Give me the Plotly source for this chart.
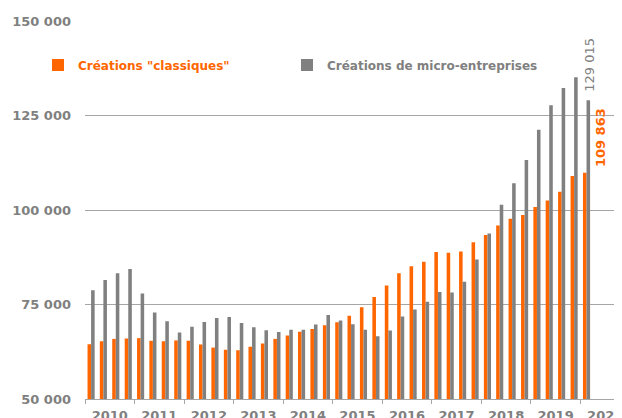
import pandas as pd
import plotly.graph_objects as go

# trimestres 2010 T1 -> 2020 T1
trimestres = pd.date_range("2010-01-01", periods=41, freq="QS").strftime("%Y-%m-%d").tolist()

creations_classiques = [
    64500, 65300, 65900, 66000,
    66100, 65400, 65300, 65500,
    65400, 64400, 63600, 63000,
    62900, 63800, 64700, 65900,
    66800, 67800, 68500, 69500,
    70300, 72000, 74300, 77000,
    80000, 83300, 85100, 86300,
    88900, 88700, 89000, 91500,
    93400, 95900, 97700, 98700,
    100800, 102500, 104800, 109000,
    109863,
]

creations_micro = [
    78800, 81500, 83300, 84400,
    77900, 72900, 70600, 67600,
    69100, 70400, 71400, 71700,
    70100, 69000, 68200, 67700,
    68300, 68300, 69700, 72200,
    70800, 69800, 68300, 66600,
    68100, 71800, 73700, 75700,
    78300, 78200, 81000, 86900,
    93800, 101400, 107100, 113200,
    121200, 127700, 132300, 135100,
    129015,
]

ORANGE = "#FF6600"
GRIS = "#808080"

fig = go.Figure()
fig.add_trace(go.Bar(
    x=trimestres, y=creations_classiques,
    xperiod="M3", xperiodalignment="middle",
    name='<b><span style="color:%s">Créations "classiques"</span></b>' % ORANGE,
    marker_color=ORANGE, marker_line_width=0, legend="legend", showlegend=True))
fig.add_trace(go.Bar(
    x=trimestres, y=creations_micro,
    xperiod="M3", xperiodalignment="middle",
    name='<b><span style="color:%s">Créations de micro-entreprises</span></b>' % GRIS,
    marker_color=GRIS, marker_line_width=0, legend="legend2", showlegend=True))

# dernières valeurs
fig.add_annotation(x=trimestres[-1], y=creations_micro[-1],
                   text="129 015", textangle=-90, showarrow=False,
                   xanchor="center", yanchor="middle", xshift=9, yshift=36,
                   font=dict(family="DejaVu Sans", size=13, color=GRIS))
fig.add_annotation(x=trimestres[-1], y=creations_classiques[-1],
                   text="<b>109 863</b>", textangle=-90, showarrow=False,
                   xanchor="center", yanchor="middle", xshift=20, yshift=35,
                   font=dict(family="DejaVu Sans", size=13, color=ORANGE))

leg = dict(orientation="h", xref="container", yref="container", xanchor="left",
           y=0.861, yanchor="middle",
           font=dict(family="DejaVu Sans", size=12), bgcolor="rgba(0,0,0,0)")
# la page ajoute une marge de 8 px autour de la figure ; la droite déborde
W = 630
fig.update_layout(
    width=W, height=410,
    margin=dict(l=77, r=8, t=13, b=19, autoexpand=False),
    showlegend=True,
    barmode="group", bargap=0.42, bargroupgap=0,
    plot_bgcolor="white", paper_bgcolor="white",
    separators=", ",
    font=dict(family="DejaVu Sans", size=13, color=GRIS),
    legend=dict(leg, x=30 / W),
    legend2=dict(leg, x=279 / W),
)
fig.update_yaxes(range=[50000, 150000], tick0=50000, dtick=25000, tickformat=",d",
                 automargin=False,
                 showgrid=True, gridcolor="#A6A6A6", gridwidth=1.3,
                 zeroline=False, showline=False, ticks="", ticklabelstandoff=13,
                 tickfont=dict(family="DejaVu Sans", size=13, color=GRIS, weight="bold"))
fig.update_xaxes(type="date", range=["2010-01-01", "2021-01-01"], automargin=False,
                 dtick="M12", tick0="2010-01-01", tickformat="%Y", ticklabelmode="period",
                 ticks="outside", ticklen=4, tickcolor="#A6A6A6",
                 showline=True, linecolor="#A6A6A6", linewidth=1.3, showgrid=False,
                 tickfont=dict(family="DejaVu Sans", size=13, color=GRIS, weight="bold"))

fig.write_html("out.html")
